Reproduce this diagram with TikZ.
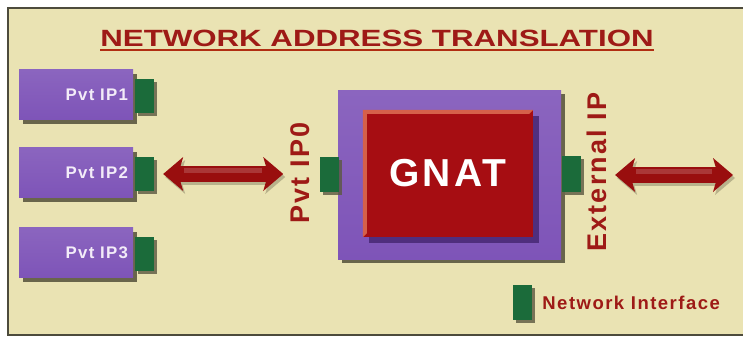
\documentclass[tikz,border=0pt]{standalone}
\usepackage{fontspec}
\setmainfont{Liberation Sans}
\newfontfamily\spacedfont[LetterSpace=8]{Liberation Sans}
\usetikzlibrary{arrows.meta,shadows}

\definecolor{panel}{HTML}{EAE3B3}
\definecolor{panelline}{HTML}{4D4B3C}
\definecolor{titlered}{HTML}{9E1A16}
\definecolor{hostpurple}{HTML}{7E54B8}
\definecolor{lavtext}{HTML}{F3ECF8}
\definecolor{nicgreen}{HTML}{1B6B3A}
\definecolor{gnatred}{HTML}{A60D12}
\definecolor{bevel}{HTML}{D5604A}
\definecolor{natshade}{HTML}{4A2A78}
\definecolor{arrowred}{HTML}{990E0E}
\definecolor{shadowc}{HTML}{5B5840}

\begin{document}
\begin{tikzpicture}[x=1pt,y=-1pt,
	host/.style={top color=hostpurple!90!white, bottom color=hostpurple, minimum width=114pt, minimum height=50pt,
		text width=104pt, align=right, inner sep=5pt, text=lavtext,
		font=\spacedfont\bfseries\fontsize{16.8}{18}\selectfont,
		drop shadow={shadow xshift=4pt,shadow yshift=-4pt,fill=shadowc,opacity=.9}},
	nic/.style={fill=nicgreen, minimum width=19pt, minimum height=34pt, inner sep=0pt,
		drop shadow={shadow xshift=3pt,shadow yshift=-3pt,fill=shadowc,opacity=.8}},
	iplabel/.style={rotate=90, inner sep=0pt, text=titlered, font=\spacedfont\bfseries\fontsize{27}{28}\selectfont},
	fatarrow/.style={draw=arrowred, line width=16pt,
		{Stealth[length=20pt,width=34pt,inset=5pt,line width=0pt]}-{Stealth[length=20pt,width=34pt,inset=5pt,line width=0pt]}},
	arrowshine/.style={draw=arrowred!50!white, line width=5pt, opacity=.35, transform canvas={yshift=3.5pt}}]
\useasboundingbox (0,0) rectangle (743,337);
\fill[white] (0,0) rectangle (743,337);
\fill[panel] (8,8) rectangle (743,335);
\draw[panelline, line width=1.6pt] (743,8) -- (8,8) -- (8,335) -- (743,335);

\node[anchor=base, inner sep=0pt, text=titlered, font=\bfseries\fontsize{23.5}{24}\selectfont]
	(title) at (377,46) {\scalebox{1.33}[1]{NETWORK ADDRESS TRANSLATION}};
\draw[titlered!80!orange, line width=2pt] ([yshift=-4pt]title.south west) -- ([yshift=-4pt]title.south east);

\foreach \i/\y in {1/94.5, 2/172.5, 3/252.5} {
	\node[host] (host\i) at (76,\y) {Pvt IP\i};
	\node[nic] (tab\i) at (144.5,\y+1.5) {};
}

\node[top color=hostpurple!90!white, bottom color=hostpurple, minimum width=223pt, minimum height=169pt,
	drop shadow={shadow xshift=4pt,shadow yshift=-4pt,fill=shadowc,opacity=.9}] (nat) at (449.5,174.5) {};
\node[fill=gnatred, minimum width=170pt, minimum height=127pt, text=white,
	font=\spacedfont\bfseries\fontsize{39}{40}\selectfont,
	drop shadow={shadow xshift=6pt,shadow yshift=-6pt,fill=natshade,opacity=.9}] (gnat) at (448,173.5) {GNAT};
\fill[bevel] (gnat.south west) -- (gnat.north west) -- (gnat.north east)
	-- ([shift={(-4pt,-4pt)}]gnat.north east) -- ([shift={(4pt,-4pt)}]gnat.north west)
	-- ([shift={(4pt,4pt)}]gnat.south west) -- cycle;
\node[nic, minimum height=35pt] (nicin) at (329,174.5) {};
\node[nic, minimum height=36pt] (nicout) at (571.5,174) {};

\node[iplabel] (pvt0) at (300,173) {Pvt IP0};
\node[iplabel] (ext) at (597,172) {External IP};
\coordinate (wan) at (733,175);

\draw[fatarrow, draw=shadowc!35!panel, transform canvas={shift={(2pt,-3pt)}}, shorten <=9pt, shorten >=7pt]
	(tab2.east) -- (tab2.east -| pvt0.north);
\draw[fatarrow, shorten <=9pt, shorten >=7pt] (tab2.east) -- (tab2.east -| pvt0.north);
\draw[arrowshine, shorten <=30pt, shorten >=28pt] (tab2.east) -- (tab2.east -| pvt0.north);
\draw[fatarrow, draw=shadowc!35!panel, transform canvas={shift={(2pt,-3pt)}}, shorten <=8pt]
	(wan -| ext.south) -- (wan);
\draw[fatarrow, shorten <=8pt] (wan -| ext.south) -- (wan);
\draw[arrowshine, shorten <=29pt, shorten >=21pt] (wan -| ext.south) -- (wan);

\node[nic, minimum height=35pt] (key) at (522.5,302.5) {};
\node[anchor=west, inner sep=0pt, text=titlered, font=\spacedfont\bfseries\fontsize{18.5}{20}\selectfont]
	(keytext) at ([xshift=10pt]key.east) {Network Interface};
\end{tikzpicture}
\end{document}
